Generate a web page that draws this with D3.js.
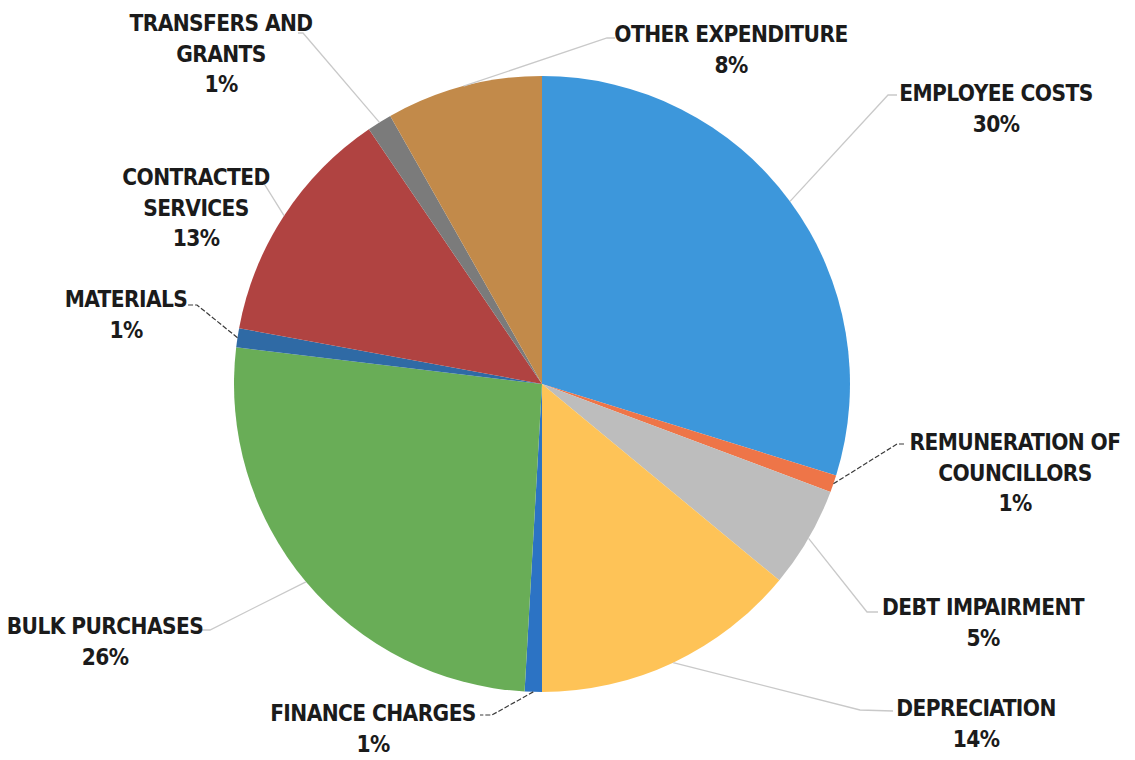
<!DOCTYPE html>
<html>
<head>
<meta charset="utf-8">
<script src="https://cdn.jsdelivr.net/npm/d3@7"></script>
<style>
  body { margin: 0; background: #fff; }
  svg { display: block; }
  .lbl { font-family: "Liberation Sans Narrow", "Arial Narrow", "DejaVu Sans Condensed", sans-serif; font-weight: bold; font-size: 22.5px; letter-spacing: -0.6px; fill: #1b1b1b; }
</style>
</head>
<body>
<script>
const width = 1135, height = 760

// expenditure categories, clockwise from 12 o'clock
const categories = ["EMPLOYEE COSTS", "REMUNERATION OF COUNCILLORS", "DEBT IMPAIRMENT", "DEPRECIATION",
    "FINANCE CHARGES", "BULK PURCHASES", "MATERIALS", "CONTRACTED SERVICES", "TRANSFERS AND GRANTS", "OTHER EXPENDITURE"]
const shares = [29.8, 0.9, 5.3, 14.0, 0.9, 26.0, 1.0, 12.6, 1.3, 8.2]
const pctLabels = ["30%", "1%", "5%", "14%", "1%", "26%", "1%", "13%", "1%", "8%"]
const colors = ["#3d97db", "#ee7548", "#bdbdbd", "#fec357", "#2c73c4", "#69ad57", "#2f6aa5", "#b04341", "#7b7b7b", "#c28a4a"]

// label placement (line breaks, centre x, first baseline, leader elbow + end)
const labelLines = [["EMPLOYEE COSTS"], ["REMUNERATION OF", "COUNCILLORS"], ["DEBT IMPAIRMENT"], ["DEPRECIATION"],
    ["FINANCE CHARGES"], ["BULK PURCHASES"], ["MATERIALS"], ["CONTRACTED", "SERVICES"], ["TRANSFERS AND", "GRANTS"], ["OTHER EXPENDITURE"]]
const labelX = [996, 1015, 983, 976, 373, 105, 126, 196, 221, 731]
const labelY = [101, 450, 615, 716, 721, 634, 307, 185, 31, 42]
const elbows = [[[888, 95], [897, 95]], [[897, 444], [906, 444]], [[867, 612], [878, 612]], [[860, 710], [893, 711]],
    [[492, 715], [480, 715]], [[210, 630], [200, 630]], [[197, 305], [188, 305]], [[263, 182], [256, 182]],
    [[303, 33], [298, 33]], [[607, 38], [615, 38]]]
const darkLeader = [false, true, false, false, true, false, true, false, false, false]

const cx = 542, cy = 384, radius = 308

const svg = d3.select("body")
    .append("svg")
    .attr("width", width)
    .attr("height", height)

const pie = d3.pie().sort(null).value(d => d)
const arcs = pie(shares)

const arc = d3.arc().innerRadius(0).outerRadius(radius)
const edge = d3.arc().innerRadius(radius).outerRadius(radius)

const g = svg.append("g").attr("transform", `translate(${cx},${cy})`)

g.selectAll(".slice")
    .data(arcs)
    .enter().append("path")
    .attr("class", "slice")
    .attr("d", arc)
    .attr("fill", (d, i) => colors[i])

// leader lines from the middle of each slice's rim to its label
const line = d3.line()
svg.selectAll(".leader")
    .data(arcs)
    .enter().append("path")
    .attr("class", "leader")
    .attr("fill", "none")
    .attr("stroke", (d, i) => darkLeader[i] ? "#3a3a3a" : "#c9c9c9")
    .attr("stroke-width", (d, i) => darkLeader[i] ? 1.2 : 1.3)
    .attr("stroke-dasharray", (d, i) => darkLeader[i] ? "5,2" : null)
    .attr("d", (d, i) => {
        const p = edge.centroid(d)
        return line([[cx + p[0], cy + p[1]], ...elbows[i]])
    })

const labels = svg.selectAll(".lbl")
    .data(categories)
    .enter().append("text")
    .attr("class", "lbl")
    .attr("text-anchor", "middle")

labels.each(function (d, i) {
    const t = d3.select(this)
    const rows = labelLines[i].concat([pctLabels[i]])
    rows.forEach((r, j) => {
        t.append("tspan")
            .attr("x", labelX[i])
            .attr("y", labelY[i] + j * 30.5)
            .text(r)
    })
})
</script>
</body>
</html>
